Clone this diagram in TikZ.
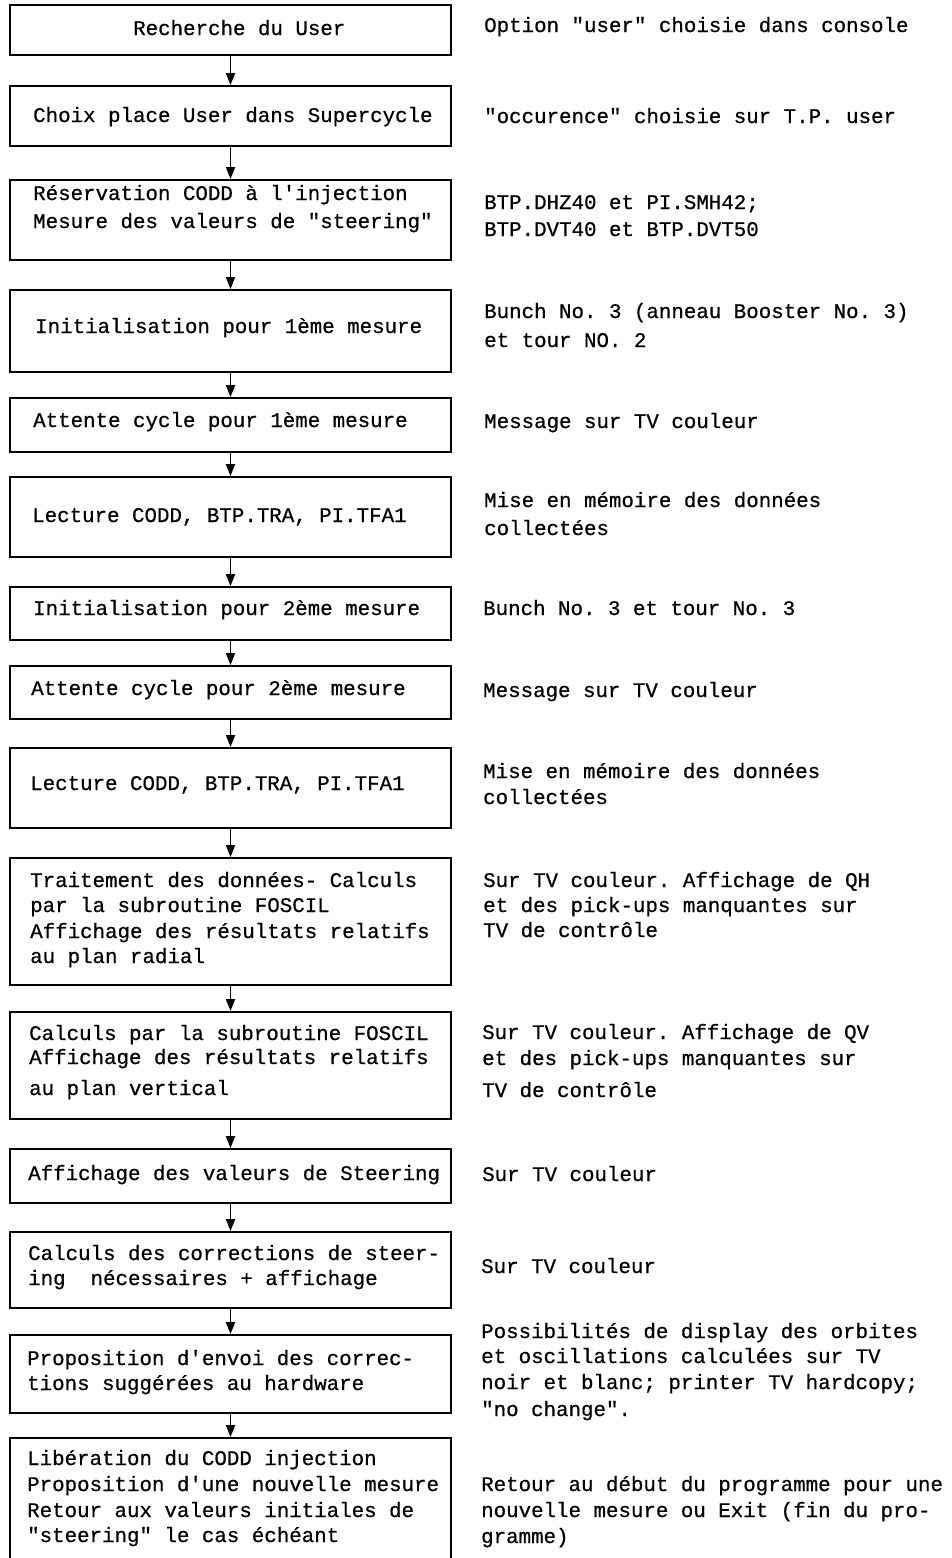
\documentclass[tikz,border=0pt]{standalone}
\usepackage{fontspec}
\setmonofont[FakeBold=0.6]{Liberation Mono}
\usetikzlibrary{arrows.meta}
\tikzset{
  x=1pt, y=-1pt,
  box/.style={draw, line width=1.8pt, minimum width=441pt, inner sep=0pt},
  txt/.style={anchor=base west, inner sep=0pt, font=\ttfamily\fontsize{20.8}{26}\selectfont},
  arr/.style={line width=1.8pt, -{Triangle[length=12pt,width=9pt]}}
}
\newcommand\bx[3]{\node[box, minimum height={#3-#2}] (#1) at (230.5,{(#2+#3)/2}) {};}
\newcommand\tl[4]{\node[txt] (#1) at (#2,#3) {#4};}
\begin{document}
\begin{tikzpicture}
\useasboundingbox (0,0) rectangle (952,1558);
\clip (0,0) rectangle (952,1558);
\fill[white] (0,0) rectangle (952,1558);
% boxes
\bx{b1}{5}{55}
\bx{b2}{86}{146}
\bx{b3}{180}{260}
\bx{b4}{290}{372}
\bx{b5}{398}{452}
\bx{b6}{477}{557}
\bx{b7}{587}{640}
\bx{b8}{666}{719}
\bx{b9}{748}{828}
\bx{b10}{858}{985}
\bx{b11}{1012}{1119}
\bx{b12}{1149}{1203}
\bx{b13}{1232}{1308}
\bx{b14}{1335}{1413}
\bx{b15}{1438}{1600}
% arrows
\foreach \a/\b in {b1/b2,b2/b3,b3/b4,b4/b5,b5/b6,b6/b7,b7/b8,b8/b9,b9/b10,b10/b11,b11/b12,b12/b13,b13/b14,b14/b15}
  \draw[arr] (\a.south) -- (\b.north);
% left texts
\tl{l1}{133}{35}{Recherche du User}
\tl{l2}{33}{122}{Choix place User dans Supercycle}
\tl{l3a}{33}{200}{Réservation CODD à l'injection}
\tl{l3b}{33}{228}{Mesure des valeurs de "steering"}
\tl{l4}{35}{333}{Initialisation pour 1ème mesure}
\tl{l5}{33}{427}{Attente cycle pour 1ème mesure}
\tl{l6}{32}{522}{Lecture CODD, BTP.TRA, PI.TFA1}
\tl{l7}{33}{615}{Initialisation pour 2ème mesure}
\tl{l8}{31}{695}{Attente cycle pour 2ème mesure}
\tl{l9}{30}{790}{Lecture CODD, BTP.TRA, PI.TFA1}
\tl{l10a}{30}{887}{Traitement des données- Calculs}
\tl{l10b}{30}{912}{par la subroutine FOSCIL}
\tl{l10c}{30}{938}{Affichage des résultats relatifs}
\tl{l10d}{30}{963}{au plan radial}
\tl{l11a}{29}{1040}{Calculs par la subroutine FOSCIL}
\tl{l11b}{29}{1064}{Affichage des résultats relatifs}
\tl{l11c}{29}{1095}{au plan vertical}
\tl{l12}{28}{1180}{Affichage des valeurs de Steering}
\tl{l13a}{28}{1260}{Calculs des corrections de steer-}
\tl{l13b}{28}{1285}{ing\ \ nécessaires + affichage}
\tl{l14a}{27}{1365}{Proposition d'envoi des correc-}
\tl{l14b}{27}{1390}{tions suggérées au hardware}
\tl{l15a}{27}{1465}{Libération du CODD injection}
\tl{l15b}{27}{1491}{Proposition d'une nouvelle mesure}
\tl{l15c}{27}{1517}{Retour aux valeurs initiales de}
\tl{l15d}{27}{1542}{"steering" le cas échéant}
% right texts
\tl{r1}{484}{32}{Option "user" choisie dans console}
\tl{r2}{484}{123}{"occurence" choisie sur T.P. user}
\tl{r3a}{484}{209}{BTP.DHZ40 et PI.SMH42;}
\tl{r3b}{484}{236}{BTP.DVT40 et BTP.DVT50}
\tl{r4a}{484}{318}{Bunch No. 3 (anneau Booster No. 3)}
\tl{r4b}{484}{347}{et tour NO. 2}
\tl{r5}{484}{428}{Message sur TV couleur}
\tl{r6a}{484}{507}{Mise en mémoire des données}
\tl{r6b}{484}{535}{collectées}
\tl{r7}{483}{615}{Bunch No. 3 et tour No. 3}
\tl{r8}{483}{697}{Message sur TV couleur}
\tl{r9a}{483}{778}{Mise en mémoire des données}
\tl{r9b}{483}{804}{collectées}
\tl{r10a}{483}{887}{Sur TV couleur. Affichage de QH}
\tl{r10b}{483}{912}{et des pick-ups manquantes sur}
\tl{r10c}{483}{937}{TV de contrôle}
\tl{r11a}{482}{1039}{Sur TV couleur. Affichage de QV}
\tl{r11b}{482}{1065}{et des pick-ups manquantes sur}
\tl{r11c}{482}{1097}{TV de contrôle}
\tl{r12}{482}{1181}{Sur TV couleur}
\tl{r13}{481}{1273}{Sur TV couleur}
\tl{r14a}{481}{1338}{Possibilités de display des orbites}
\tl{r14b}{481}{1363}{et oscillations calculées sur TV}
\tl{r14c}{481}{1389}{noir et blanc; printer TV hardcopy;}
\tl{r14d}{481}{1416}{"no change".}
\tl{r15a}{481}{1491}{Retour au début du programme pour une}
\tl{r15b}{481}{1517}{nouvelle mesure ou Exit (fin du pro-}
\tl{r15c}{481}{1543}{gramme)}
\end{tikzpicture}
\end{document}
